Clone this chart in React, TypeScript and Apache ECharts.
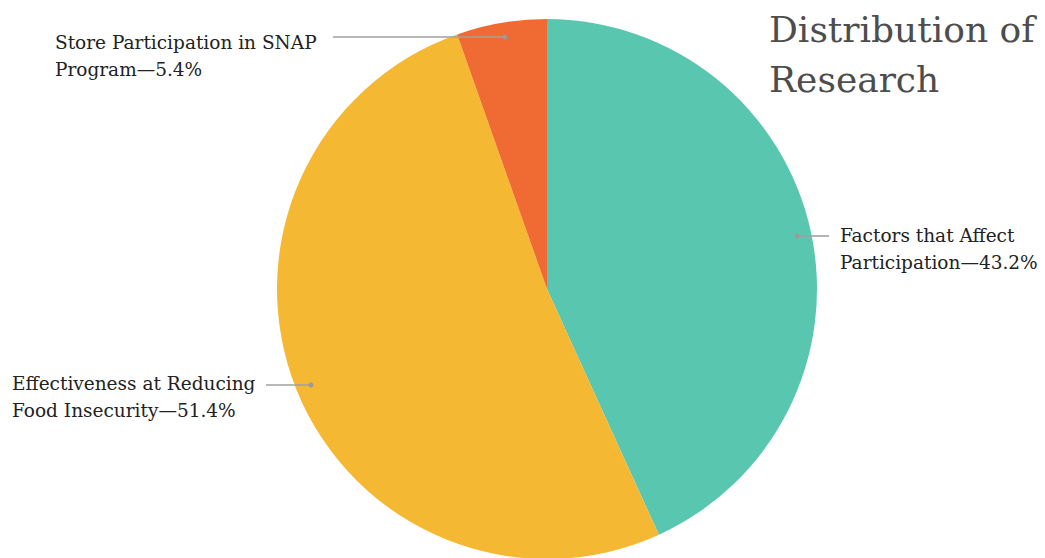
import React, { useEffect, useRef } from "react";
import * as echarts from "echarts";

const categories = [
  "Factors that Affect Participation",
  "Effectiveness at Reducing Food Insecurity",
  "Store Participation in SNAP Program",
];
const values = [43.2, 51.4, 5.4];
const colors = ["#59C6AF", "#F5B832", "#EF6B33"];
const titleText = "Distribution of\nResearch";

// label placement (text top-left and label-line anchor points)
const labelBoxes = [
  { x: 840, y: 222, width: 210, line: [[797, 236], [829, 236]] },
  { x: 12, y: 370, width: 265, line: [[311, 385], [266, 385]] },
  { x: 55, y: 29, width: 285, line: [[505, 37], [333, 37]] },
];

export default function App() {
  const ref = useRef<HTMLDivElement>(null);
  useEffect(() => {
    const chart = echarts.init(ref.current!, null, { renderer: "svg" });
    const font = "'DejaVu Serif', 'Liberation Serif', serif";
    chart.setOption({
      animation: false,
      backgroundColor: "#ffffff",
      title: {
        text: titleText,
        left: 764,
        top: -1,
        textStyle: {
          fontFamily: font,
          fontSize: 36,
          fontWeight: "normal",
          color: "#4d4d4d",
          lineHeight: 50,
        },
      },
      graphic: labelBoxes.flatMap((b) => [
        {
          type: "line",
          shape: { x1: b.line[0][0], y1: b.line[0][1], x2: b.line[1][0], y2: b.line[1][1] },
          style: { stroke: "#a0a0a0", lineWidth: 1.6 },
          z: 100,
        },
        {
          type: "circle",
          shape: { cx: b.line[0][0], cy: b.line[0][1], r: 2.5 },
          style: { fill: "#9a9a9a" },
          z: 100,
        },
      ]),
      series: [
        {
          type: "pie",
          center: [547, 289],
          radius: [0, 270],
          startAngle: 90,
          clockwise: true,
          data: categories.map((name, i) => ({
            name,
            value: values[i],
            itemStyle: { color: colors[i] },
            label: { width: labelBoxes[i].width },
          })),
          label: {
            show: true,
            position: "outside",
            formatter: (p: any) => `${p.name}—${p.value}%`,
            fontFamily: font,
            fontSize: 18.5,
            lineHeight: 27,
            color: "#222222",
            overflow: "break",
          },
          labelLine: { show: false },
          labelLayout: (params: any) => {
            const b = labelBoxes[params.dataIndex];
            return {
              x: b.x,
              y: b.y,
              align: "left",
              verticalAlign: "top",
            };
          },
        },
      ],
    });
    return () => chart.dispose();
  }, []);
  return (
    <div
      ref={ref}
      style={{ position: "fixed", left: 0, top: 0, width: 1045, height: 558 }}
    />
  );
}
